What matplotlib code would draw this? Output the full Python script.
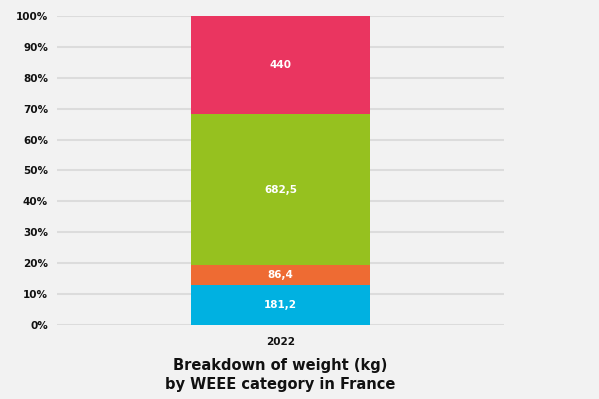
import matplotlib.pyplot as plt
from matplotlib.ticker import PercentFormatter

years = ['2022']
categories = ['cat_blue', 'cat_orange', 'cat_green', 'cat_pink']
weights_kg = [181.2, 86.4, 682.5, 440]
colors = ['#00B1E1', '#EE6B33', '#96C11F', '#EA3560']

plt.rcParams['font.family'] = ['DejaVu Sans']

fig = plt.figure(figsize=(5.99, 3.99), dpi=100, facecolor='#F2F2F2')
ax = fig.add_axes([0.0952, 0.1855, 0.7462, 0.7745])
ax.set_facecolor('#F2F2F2')

total = sum(weights_kg)
bottom = 0
for name, w, c in zip(categories, weights_kg, colors):
    share = w / total * 100
    ax.bar(years, share, bottom=bottom, width=0.4, color=c, zorder=3)
    label = f"{w:g}".replace('.', ',')
    ax.text(0, bottom + share / 2, label, ha='center', va='center',
            color='white', fontsize=7.5, fontweight='bold', zorder=4)
    bottom += share

ax.set_xlim(-0.5, 0.5)
ax.set_ylim(0, 100)
ax.set_yticks(range(0, 101, 10))
ax.yaxis.set_major_formatter(PercentFormatter(decimals=0))
ax.grid(axis='y', color='#DCDCDC', linewidth=1.5, zorder=0)
for s in ax.spines.values():
    s.set_visible(False)
ax.tick_params(length=0, labelsize=7.5, pad=6.5)
for t in ax.get_yticklabels() + ax.get_xticklabels():
    t.set_fontweight('bold')
    t.set_color('#111111')
ax.tick_params(axis='x', pad=9)

fig.text(0.4683, 0.06, 'Breakdown of weight (kg)\nby WEEE category in France',
         ha='center', va='center', fontsize=10.5, fontweight='bold',
         color='#111111', linespacing=1.3)

fig.savefig('out.png', dpi=100, facecolor=fig.get_facecolor())
